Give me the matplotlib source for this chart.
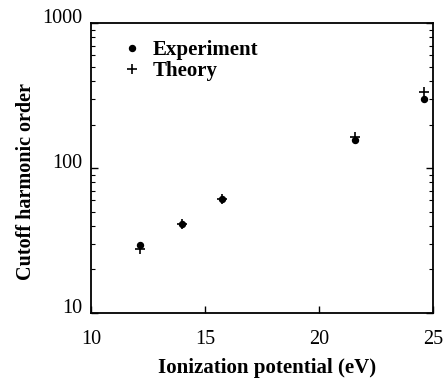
import matplotlib
matplotlib.use("Agg")
import matplotlib.pyplot as plt
from matplotlib.ticker import LogLocator, NullFormatter, FixedLocator

plt.rcParams['font.family'] = ['Liberation Serif', 'DejaVu Serif']

ionization = [12.13, 14.0, 15.76, 21.56, 24.59]
experiment = [29.4, 41.0, 61.5, 156, 298]
theory = [27.5, 41.0, 61.5, 164, 334]
ytick_vals = [10, 100, 1000]
ytick_labels = ['10', '100', '1000']
xtick_vals = [10, 15, 20, 25]

fig = plt.figure(figsize=(4.46, 3.8), dpi=100)
ax = fig.add_axes([0.204, 0.176, 0.767, 0.763])

ax.plot(ionization, experiment, 'o', color='black', markersize=4.3, label='Experiment')
ax.plot(ionization, theory, '+', color='black', markersize=6.5, markeredgewidth=1.2, label='Theory')

ax.set_yscale('log')
ax.set_xlim(10, 25)
ax.set_ylim(10, 1000)
ax.set_xticks(xtick_vals)
ax.yaxis.set_major_locator(FixedLocator(ytick_vals))
ax.yaxis.set_minor_locator(LogLocator(base=10, subs=range(2, 10)))
ax.yaxis.set_minor_formatter(NullFormatter())
ax.set_yticklabels(ytick_labels)
for lab in ax.get_yticklabels():
    lab.set_verticalalignment('baseline')

ax.tick_params(axis='both', which='major', direction='in', length=5, width=1, labelsize=14.5)
ax.tick_params(axis='x', which='major', pad=12)
ax.tick_params(axis='y', which='major', pad=6)
ax.tick_params(axis='both', which='minor', direction='in', length=3, width=0.8)
ax.tick_params(axis='y', which='both', right=True)
for s in ax.spines.values():
    s.set_linewidth(1.3)

ax.set_xlabel('Ionization potential (eV)', fontsize=15, fontweight='bold')
ax.set_ylabel('Cutoff harmonic order', fontsize=14.5, fontweight='bold')
ax.xaxis.set_label_coords(0.515, -0.155)
ax.yaxis.set_label_coords(-0.161, 0.453)

leg = ax.legend(loc='upper left', frameon=False, prop={'weight': 'bold', 'size': 15},
                handletextpad=0.48, bbox_to_anchor=(0.035, 1.006), labelspacing=0.06,
                handlelength=1, borderaxespad=0.5)

fig.savefig('out.png', dpi=100)
